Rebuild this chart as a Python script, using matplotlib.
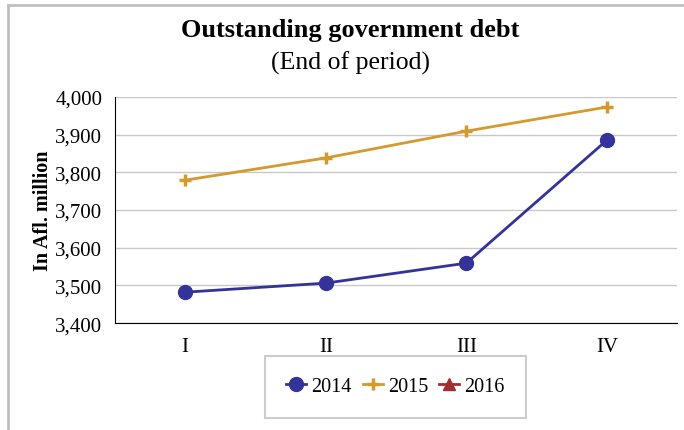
#!/usr/bin/env python3
"""
Outstanding government debt, end of period (Afl. million)
"""

import matplotlib.pyplot as plt
from matplotlib.lines import Line2D
import numpy as np

plt.rcParams['font.family'] = ['Liberation Serif', 'DejaVu Serif']

# Data
quarters = ['I', 'II', 'III', 'IV']
debt_2014 = [3482, 3506, 3559, 3885]
debt_2015 = [3779, 3838, 3909, 3973]
debt_2016 = [np.nan, np.nan, np.nan, np.nan]

fig = plt.figure(figsize=(6.84, 4.31), dpi=100)
ax = fig.add_axes([0.168, 0.248, 0.822, 0.525])

x = np.arange(len(quarters))
ax.plot(x, debt_2014, color='#333399', marker='o', markersize=10, linewidth=2, label='2014')
ax.plot(x, debt_2015, color='#d4992f', marker='+', markersize=9, markeredgewidth=2.5,
        linewidth=2, label='2015')
ax.plot(x, debt_2016, color='#a03030', marker='^', markersize=9, linewidth=2, label='2016')

ax.set_xlim(-0.5, 3.5)
ax.set_ylim(3400, 4000)
ax.set_yticks(np.arange(3400, 4001, 100))
ax.set_yticklabels([f'{v:,}' for v in range(3400, 4001, 100)])
ax.set_xticks(x)
ax.set_xticklabels(quarters)
ax.tick_params(axis='both', labelsize=15, length=0)
ax.tick_params(axis='x', pad=10)
ax.tick_params(axis='y', pad=9)

ax.grid(True, axis='y', color='#c8c8c8', linewidth=1)
ax.set_axisbelow(True)
for side in ['top', 'right']:
    ax.spines[side].set_visible(False)
ax.spines['left'].set_color('black')
ax.spines['bottom'].set_color('black')

ax.set_ylabel('In Afl. million', fontsize=14.5, fontweight='bold', labelpad=2)

fig.text(0.512, 0.93, 'Outstanding government debt', ha='center', va='center',
         fontsize=19, fontweight='bold')
fig.text(0.512, 0.852, '(End of period)', ha='center', va='center', fontsize=18.5)

# Legend with custom handles
handles = [
    Line2D([], [], color='#333399', marker='o', markersize=10, linewidth=2),
    Line2D([], [], color='#d4992f', marker='+', markersize=9, markeredgewidth=2.5, linewidth=2),
    Line2D([], [], color='#a03030', marker='^', markersize=9, linewidth=2),
]
leg = fig.legend(handles, ['2014', '2015', '2016'], loc='center', bbox_to_anchor=(0.578, 0.1),
                 ncol=3, fontsize=14.5, frameon=True, fancybox=False, handlelength=1.0,
                 handletextpad=0.25, columnspacing=0.55, borderpad=1.05, borderaxespad=0)
leg.get_frame().set_edgecolor('#c0c0c0')
leg.get_frame().set_linewidth(1.5)

# Partial outer frame (top and left)
fig.add_artist(Line2D([8 / 684, 8 / 684], [0, 1 - 6 / 431], transform=fig.transFigure,
                      color='#c0c0c0', linewidth=2))
fig.add_artist(Line2D([8 / 684, 1], [1 - 6 / 431, 1 - 6 / 431], transform=fig.transFigure,
                      color='#c0c0c0', linewidth=2))

plt.savefig('out.png', dpi=100)
